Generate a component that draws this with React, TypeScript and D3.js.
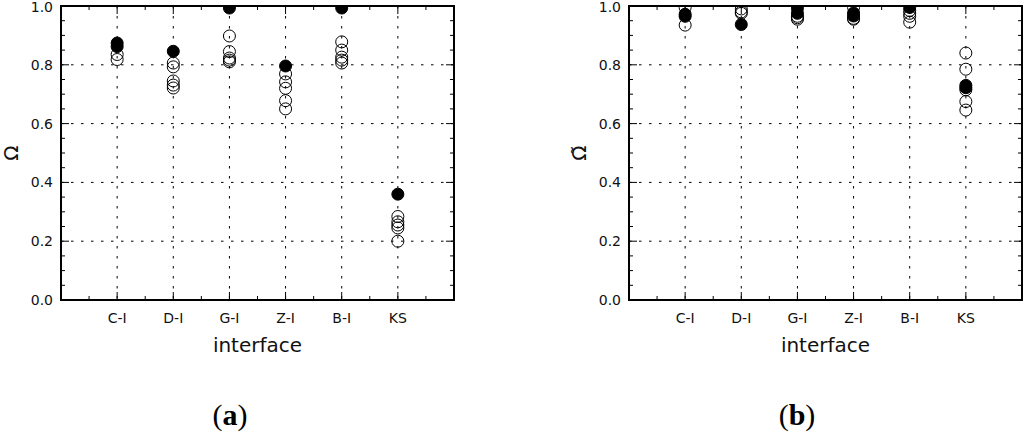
import * as d3 from "d3";

// interface categories (x positions 1..6)
const categories = ["C-I", "D-I", "G-I", "Z-I", "B-I", "KS"];
const yTickValues = [0, 0.2, 0.4, 0.6, 0.8, 1.0];

// panel (a): Omega
const openA = [
    [0.835, 0.818],
    [0.806, 0.793, 0.745, 0.731, 0.721],
    [0.898, 0.845, 0.823, 0.816, 0.81],
    [0.769, 0.742, 0.72, 0.678, 0.65],
    [0.878, 0.85, 0.826, 0.816, 0.806],
    [0.284, 0.266, 0.255, 0.245, 0.2],
];
const filledA = [
    [0.874, 0.862],
    [0.846],
    [0.993],
    [0.796],
    [0.993],
    [0.36],
];

// panel (b): Omega tilde
const openB = [
    [0.995, 0.935],
    [0.99, 0.98, 0.975],
    [0.965, 0.96, 0.955],
    [0.995, 0.958, 0.955],
    [0.985, 0.975, 0.965, 0.945],
    [0.84, 0.785, 0.715, 0.675, 0.646],
];
const filledB = [
    [0.972, 0.965],
    [0.937],
    [0.992, 0.975],
    [0.976, 0.966],
    [0.995],
    [0.73, 0.722],
];

const W = 393;
const H = 294;
const FONT = "DejaVu Sans, sans-serif";

interface PanelProps {
    left: number;
    top: number;
    id: string;
    yLabel: string;
    caption: string;
    captionX: number;
    open: number[][];
    filled: number[][];
}

function Panel({ left, top, id, yLabel, caption, captionX, open, filled }: PanelProps) {
    const x = d3.scaleLinear([0, 7], [0, W]);
    const y = d3.scaleLinear([0, 1], [H, 0]);
    const xMajor = d3.range(0, 8);
    const xMinor = d3.range(0.5, 7, 1);
    const yMinor = d3.range(0, 21).map((d) => d * 0.05).filter((d) => Math.round(d * 100) % 20 !== 0);
    const dash = "2.5,7.5";

    return (
        <g>
            <g transform={`translate(${left},${top})`}>
                <defs>
                    <clipPath id={id}>
                        <rect x={0} y={0} width={W} height={H} />
                    </clipPath>
                </defs>
                {/* grid */}
                <g stroke="#000" strokeWidth={1} strokeDasharray={dash}>
                    {categories.map((c, i) => (
                        <line key={c} x1={x(i + 1)} x2={x(i + 1)} y1={0} y2={H} />
                    ))}
                    {yTickValues.slice(1, -1).map((v) => (
                        <line key={v} x1={0} x2={W} y1={y(v)} y2={y(v)} />
                    ))}
                </g>
                {/* ticks, inward on all sides */}
                <g stroke="#000" strokeWidth={1}>
                    {xMajor.map((v) => (
                        <g key={"xm" + v}>
                            <line x1={x(v)} x2={x(v)} y1={H} y2={H - 8} />
                            <line x1={x(v)} x2={x(v)} y1={0} y2={8} />
                        </g>
                    ))}
                    {xMinor.map((v) => (
                        <g key={"xn" + v}>
                            <line x1={x(v)} x2={x(v)} y1={H} y2={H - 4} />
                            <line x1={x(v)} x2={x(v)} y1={0} y2={4} />
                        </g>
                    ))}
                    {yTickValues.map((v) => (
                        <g key={"ym" + v}>
                            <line x1={0} x2={8} y1={y(v)} y2={y(v)} />
                            <line x1={W} x2={W - 8} y1={y(v)} y2={y(v)} />
                        </g>
                    ))}
                    {yMinor.map((v) => (
                        <g key={"yn" + v}>
                            <line x1={0} x2={4} y1={y(v)} y2={y(v)} />
                            <line x1={W} x2={W - 4} y1={y(v)} y2={y(v)} />
                        </g>
                    ))}
                </g>
                {/* markers */}
                <g clipPath={`url(#${id})`}>
                    {open.map((vals, i) =>
                        vals.map((v, j) => (
                            <circle key={`o${i}-${j}`} cx={x(i + 1)} cy={y(v)} r={6}
                                    fill="none" stroke="#000" strokeWidth={1} />
                        ))
                    )}
                    {filled.map((vals, i) =>
                        vals.map((v, j) => (
                            <circle key={`f${i}-${j}`} cx={x(i + 1)} cy={y(v)} r={6}
                                    fill="#000" stroke="#000" strokeWidth={1} />
                        ))
                    )}
                </g>
                <rect x={0} y={0} width={W} height={H} fill="none" stroke="#000" strokeWidth={2} />
                {/* tick labels */}
                <g fontFamily={FONT} fontSize={14} fill="#111">
                    {yTickValues.map((v) => (
                        <text key={v} x={-8} y={y(v) + (v === 1 ? 1 : 0)} dy="0.36em" textAnchor="end">
                            {v.toFixed(1)}
                        </text>
                    ))}
                    {categories.map((c, i) => (
                        <text key={c} x={x(i + 1)} y={H + 23} textAnchor="middle">
                            {c}
                        </text>
                    ))}
                </g>
                <text x={W / 2} y={H + 52} textAnchor="middle" fontFamily={FONT} fontSize={20} fill="#111">
                    interface
                </text>
                {/* y label, just left of the tick labels */}
                <text transform={`translate(-43,${H / 2}) rotate(-90)`}
                      textAnchor="middle" fontFamily={FONT} fontSize={20} fill="#111">
                    {yLabel}
                </text>
            </g>
            <text x={captionX} y={425} textAnchor="middle" fontFamily="Liberation Serif, Times New Roman, serif"
                  fontSize={30} fill="#000">
                (<tspan fontWeight="bold">{caption}</tspan>)
            </text>
        </g>
    );
}

export default function App() {
    return (
        <svg width={1024} height={435} style={{ position: "absolute", left: 0, top: 0, background: "#fff" }}>
            <rect width={1024} height={435} fill="#fff" />
            <Panel left={61} top={6} id="ca" yLabel="Ω" caption="a" captionX={230}
                   open={openA} filled={filledA} />
            <Panel left={629} top={6} id="cb" yLabel={"Ω\u0303"} caption="b" captionX={797}
                   open={openB} filled={filledB} />
        </svg>
    );
}
